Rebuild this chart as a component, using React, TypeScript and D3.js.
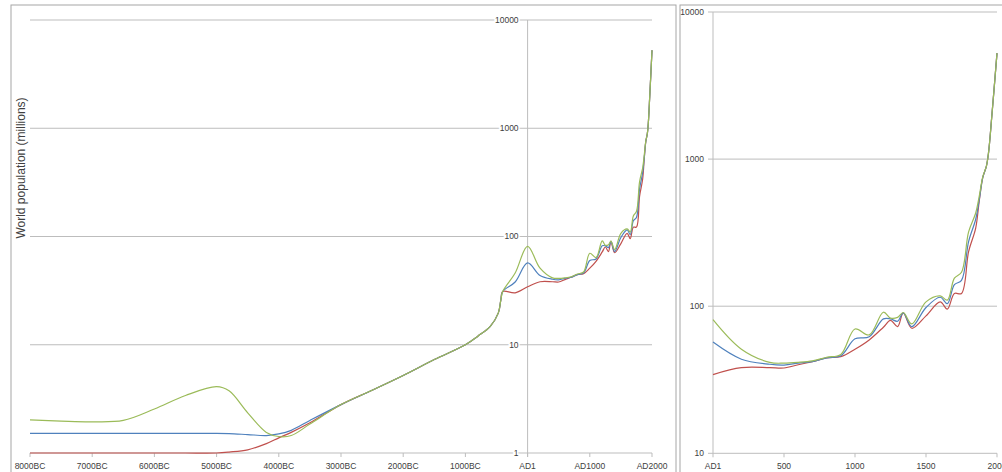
import React from "react";
import * as d3 from "d3";

const years = [-8000, -7500, -7000, -6500, -6000, -5500, -5000, -4800, -4500, -4200, -4000, -3800, -3500, -3000, -2500, -2000, -1500, -1000, -800, -600, -470, -430, -400, -200, 0, 200, 400, 500, 600, 700, 800, 900, 1000, 1100, 1200, 1250, 1300, 1340, 1400, 1500, 1600, 1650, 1700, 1750, 1800, 1850, 1875, 1900, 1925, 1940, 1965, 2000];

const lowValues = [1.0, 1.0, 1.0, 1.0, 1.0, 1.0, 1.0, 1.02, 1.07, 1.22, 1.38, 1.55, 1.9, 2.8, 3.8, 5.2, 7.3, 10, 12, 14.8, 19.7, 26, 31, 30.2, 34.3, 38.2, 38.2, 38, 40, 42, 44.5, 45.4, 51, 59, 72, 80, 72.6, 90, 70.8, 86, 107, 95.5, 122, 122, 235, 340, 520, 750, 892, 1097, 2040, 5250];

const midValues = [1.52, 1.52, 1.52, 1.52, 1.52, 1.52, 1.52, 1.51, 1.48, 1.45, 1.5, 1.62, 2.0, 2.8, 3.8, 5.2, 7.3, 10, 12, 14.8, 19.7, 26, 31, 38, 57, 43.6, 40.3, 39.8, 41, 42, 44.5, 46, 60, 62, 82, 82, 79, 90, 72.6, 98, 115, 104, 140, 150, 275, 390, 530, 750, 892, 1097, 2040, 5250];

const highValues = [2.02, 1.97, 1.94, 2.0, 2.55, 3.4, 4.1, 3.75, 2.35, 1.55, 1.42, 1.45, 1.85, 2.8, 3.8, 5.2, 7.3, 10, 12, 14.8, 19.7, 26, 31, 46, 81, 51, 41.5, 41, 41.5, 42.5, 45, 47, 70, 63.8, 91, 83, 84, 90.6, 75.8, 107, 117.5, 110, 155, 170, 320, 430, 560, 760, 892, 1097, 2040, 5250];

const leftTickYears = [-8000, -7000, -6000, -5000, -4000, -3000, -2000, -1000, 0, 1000, 2000];
const leftTickLabels = ["8000BC", "7000BC", "6000BC", "5000BC", "4000BC", "3000BC", "2000BC", "1000BC", "AD1", "AD1000", "AD2000"];
const leftYTicks = [1, 10, 100, 1000, 10000];

const rightTickYears = [0, 500, 1000, 1500, 2000];
const rightTickLabels = ["AD1", "500", "1000", "1500", "2000"];
const rightYTicks = [10, 100, 1000, 10000];

const seriesColors = ["#c0504d", "#4f81bd", "#9bbb59"];
const seriesValues = [lowValues, midValues, highValues];

const FONT = "'Liberation Sans', Arial, sans-serif";
const GRID = "#bdbdbd";
const TXT = "#404040";

export default function App() {
  const xL = d3.scaleLinear().domain([-8000, 2000]).range([30, 652]);
  const yL = d3.scaleLog().domain([1, 10000]).range([453, 20]);
  const xR = d3.scaleLinear().domain([0, 2000]).range([713, 997]);
  const yR = d3.scaleLog().domain([10, 10000]).range([453.3, 12]);

  const lineL = (vals: number[]) =>
    d3
      .line<number>()
      .x((_, i) => xL(years[i]))
      .y((v) => yL(v))
      .curve(d3.curveCatmullRom.alpha(0.5))(vals) || "";

  const lineR = (vals: number[]) => {
    const pts = years
      .map((yr, i) => [yr, vals[i]] as [number, number])
      .filter((p) => p[0] >= 0);
    return (
      d3
        .line<[number, number]>()
        .x((p) => xR(p[0]))
        .y((p) => yR(p[1]))
        .curve(d3.curveCatmullRom.alpha(0.5))(pts) || ""
    );
  };

  const axisX0 = xL(0);

  return (
    <svg
      width={1002}
      height={472}
      style={{ position: "absolute", left: 0, top: 0, background: "#fff" }}
      fontFamily={FONT}
    >
      <rect x={0} y={0} width={1002} height={472} fill="#fff" />
      <rect x={11} y={5} width={665} height={480} fill="none" stroke="#a6a6a6" strokeWidth={1} />
      <rect x={680} y={5} width={340} height={480} fill="none" stroke="#a6a6a6" strokeWidth={1} />

      <g>
        {leftYTicks.slice(1).map((t) => (
          <line key={"lg" + t} x1={30} x2={652} y1={yL(t)} y2={yL(t)} stroke={GRID} strokeWidth={1} />
        ))}
        <line x1={30} x2={652} y1={yL(1)} y2={yL(1)} stroke={GRID} strokeWidth={1} />
        {leftTickYears.map((t) => (
          <line key={"lxt" + t} x1={xL(t)} x2={xL(t)} y1={yL(1)} y2={yL(1) + 4} stroke={GRID} strokeWidth={1} />
        ))}
        <line x1={axisX0} x2={axisX0} y1={yL(10000)} y2={yL(1) + 4} stroke={GRID} strokeWidth={1} />
        {seriesValues.map((vals, i) => (
          <path key={"ls" + i} d={lineL(vals)} fill="none" stroke={seriesColors[i]} strokeWidth={1.2} />
        ))}
        {leftYTicks.map((t) => (
          <text
            key={"lyl" + t}
            x={axisX0 - 9}
            y={yL(t)}
            dy="0.35em"
            textAnchor="end"
            fontSize={8.5}
            fill={TXT}
            stroke="#fff"
            strokeWidth={3}
            paintOrder="stroke"
          >
            {t}
          </text>
        ))}
        {leftTickYears.map((t, i) => (
          <text key={"lxl" + t} x={xL(t)} y={466} dy="0.35em" textAnchor="middle" fontSize={8.5} fill={TXT}>
            {leftTickLabels[i]}
          </text>
        ))}
        <text
          transform={`translate(21, 168) rotate(-90)`}
          textAnchor="middle"
          dy="0.35em"
          fontSize={12}
          fill={TXT}
        >
          World population (millions)
        </text>
      </g>

      <g>
        {rightYTicks.slice(1).map((t) => (
          <line key={"rg" + t} x1={xR(0)} x2={xR(2000)} y1={yR(t)} y2={yR(t)} stroke={GRID} strokeWidth={1} />
        ))}
        <line x1={xR(0)} x2={xR(2000)} y1={yR(10)} y2={yR(10)} stroke={GRID} strokeWidth={1} />
        <line x1={xR(0)} x2={xR(0)} y1={yR(10000)} y2={yR(10)} stroke={GRID} strokeWidth={1} />
        {rightYTicks.map((t) => (
          <line key={"ryt" + t} x1={xR(0) - 5} x2={xR(0)} y1={yR(t)} y2={yR(t)} stroke={GRID} strokeWidth={1} />
        ))}
        {rightTickYears.map((t) => (
          <line key={"rxt" + t} x1={xR(t)} x2={xR(t)} y1={yR(10)} y2={yR(10) + 4} stroke={GRID} strokeWidth={1} />
        ))}
        {seriesValues.map((vals, i) => (
          <path key={"rs" + i} d={lineR(vals)} fill="none" stroke={seriesColors[i]} strokeWidth={1.2} />
        ))}
        {rightYTicks.map((t) => (
          <text key={"ryl" + t} x={xR(0) - 9} y={yR(t)} dy="0.35em" textAnchor="end" fontSize={8.5} fill={TXT}>
            {t}
          </text>
        ))}
        {rightTickYears.map((t, i) => (
          <text key={"rxl" + t} x={xR(t)} y={466} dy="0.35em" textAnchor="middle" fontSize={8.5} fill={TXT}>
            {rightTickLabels[i]}
          </text>
        ))}
      </g>
    </svg>
  );
}
